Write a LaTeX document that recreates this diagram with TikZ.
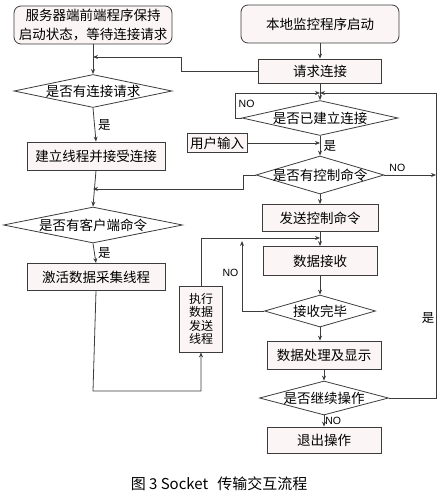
\documentclass[tikz,border=0pt]{standalone}
\usepackage{fontspec}
\newfontfamily\cjk{Noto Sans CJK SC}
\newfontfamily\latinsf{Liberation Sans}
\usetikzlibrary{shapes.geometric,arrows.meta}
\definecolor{linecol}{RGB}{60,60,60}
\definecolor{boxfill}{RGB}{252,245,245}
\begin{document}
\begin{tikzpicture}[x=1pt,y=-1pt,line width=0.8pt,
    every node/.style={font=\cjk\fontsize{13.5}{19}\selectfont},
    startbox/.style={draw=linecol, fill=boxfill, rounded corners=7pt, minimum width=158pt, minimum height=38pt, align=center, inner sep=1pt},
    procbox/.style={draw=linecol, fill=boxfill, inner sep=1pt, align=center},
    decision/.style={draw=linecol, fill=white, diamond, inner sep=0pt},
    arr/.style={draw=linecol, -{Stealth[length=5pt,width=4pt]}},
    yes/.style={font=\cjk\fontsize{12.5}{14}\selectfont},
    no/.style={font=\latinsf\fontsize{10.5}{12}\selectfont}]
    \useasboundingbox (0,0) rectangle (446,497);
    % server side
    \node[startbox] (srvstart) at (93,25) {服务器端前端程序保持\\启动状态，等待连接请求};
    \node[decision, minimum width=158pt, minimum height=33pt, label=center:是否有连接请求] (connreq) at (93,91) {};
    \node[procbox, minimum width=138pt, minimum height=28pt] (accept) at (96,156) {建立线程并接受连接};
    \node[decision, minimum width=179pt, minimum height=36pt, label=center:是否有客户端命令] (cliecmd) at (93,225) {};
    \node[procbox, minimum width=138pt, minimum height=27pt] (collect) at (96,277) {激活数据采集线程};
    \node[procbox, minimum width=43pt, minimum height=66pt, font=\cjk\fontsize{12}{13.5}\selectfont] (sendthr) at (201,319) {执行\\数据\\发送\\线程};
    % local side
    \node[startbox] (locstart) at (320,24) {本地监控程序启动};
    \node[procbox, minimum width=123pt, minimum height=24pt] (reqconn) at (320,71) {请求连接};
    \node[decision, minimum width=156pt, minimum height=35pt, label=center:是否已建立连接] (isconn) at (320,118) {};
    \node[procbox, minimum width=60pt, minimum height=19pt] (userin) at (217,143) {用户输入};
    \node[decision, minimum width=128pt, minimum height=38pt, label=center:是否有控制命令] (hasctrl) at (320,175) {};
    \node[procbox, minimum width=116pt, minimum height=27pt] (sendctrl) at (320,218) {发送控制命令};
    \node[procbox, minimum width=114pt, minimum height=29pt] (recv) at (320,261) {数据接收};
    \node[decision, minimum width=111pt, minimum height=32pt, label=center:接收完毕] (done) at (320,311) {};
    \node[procbox, minimum width=114pt, minimum height=28pt] (process) at (324,355) {数据处理及显示};
    \node[decision, minimum width=129pt, minimum height=34pt, label=center:是否继续操作] (goon) at (324,398) {};
    \node[procbox, minimum width=114pt, minimum height=26pt] (quit) at (324,440) {退出操作};
    \node[font=\cjk\fontsize{15}{18}\selectfont] (caption) at (219,484) {图 3 Socket\hspace{9pt}传输交互流程};
    % bends
    \coordinate (j1) at (93,57);
    \coordinate (k1) at (181,57);
    \coordinate (j2) at (93,189);
    \coordinate (k2) at (243,189);
    \coordinate (j3) at (320,238);
    \coordinate (k3) at (93,391);
    \coordinate (k4) at (242,241);
    \coordinate (j4) at (320,93);
    \coordinate (k5) at (235,93);
    \coordinate (k6) at (436,93);
    \foreach \a/\b in {srvstart/connreq,accept/cliecmd,locstart/reqconn,reqconn/isconn,hasctrl/sendctrl,sendctrl/recv,recv/done,process/goon} {
        \draw[arr] (\a.south) -- (\b.north);
    }
    \draw[arr] (connreq.south) -- (accept.north) node[midway, right, yes] (yes1) {是};
    \draw[arr] (cliecmd.south) -- (collect.north) node[midway, right, yes] (yes2) {是};
    \draw[arr] (isconn.south) -- (hasctrl.north) node[midway, right, yes] (yes3) {是};
    \draw[arr] (goon.south) -- (quit.north) node[midway, right, no, inner sep=1pt] (no4) {NO};
    \draw[arr] (done.south) -- (done.south |- process.north);
    \draw[arr] (reqconn.west) -| (k1) -- (j1);
    \draw[arr] (hasctrl.west) -| (k2) -- (j2);
    \draw[arr] (collect.south) -- (k3) -| (sendthr.south);
    \draw[arr] (sendthr.north) |- (j3);
    \draw[arr] (done.west) -| (k4);
    \draw[arr] (isconn.west) -| (k5) -- (j4);
    \draw[arr] (goon.east) -| (k6) -- (j4);
    \draw[arr] (userin.east) -- (userin.east -| isconn.south);
    \draw[arr] (hasctrl.east) -- (hasctrl.east -| k6) node[pos=0.25, above, no] (no2) {NO};
    \node[no, anchor=west] (no1) at (235,104) {NO};
    \node[no, anchor=east] (no3) at (242,273) {NO};
    \node[yes] (yes4) at (428,318) {是};
\end{tikzpicture}
\end{document}
